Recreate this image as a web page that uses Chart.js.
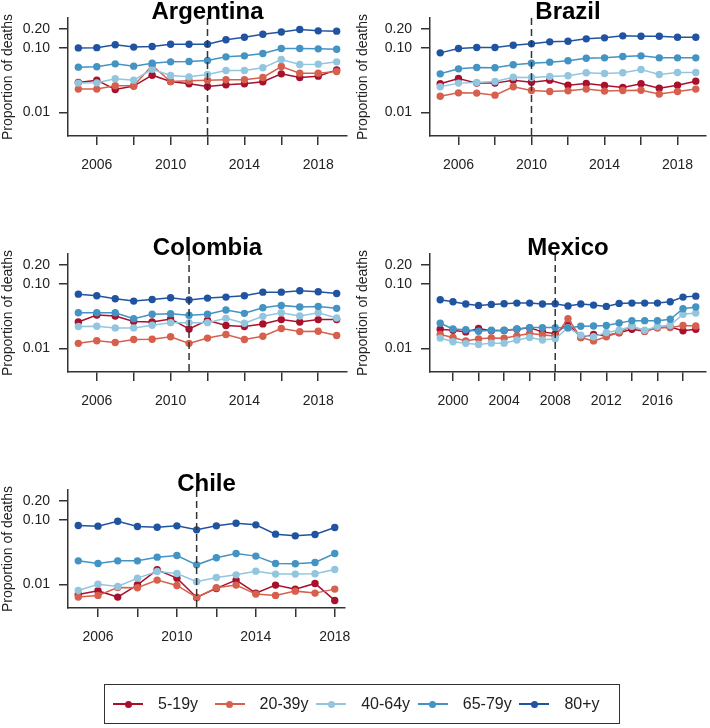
<!DOCTYPE html>
<html>
<head>
<meta charset="utf-8">
<script src="https://cdn.jsdelivr.net/npm/chart.js@4.4.1/dist/chart.umd.min.js"></script>
<style>
  body { margin: 0; background: #fff; font-family: "Liberation Sans", Arial, Helvetica, sans-serif; }
  #wrap { position: relative; width: 710px; height: 728px; }
  canvas { position: absolute; }
  #argentina { left: 0; top: 0; }
  #brazil { left: 355px; top: 0; }
  #colombia { left: 0; top: 236px; }
  #mexico { left: 355px; top: 236px; }
  #chile { left: 0; top: 472px; }
  #legend {
    position: absolute; left: 104px; top: 684px; width: 516px; height: 40px;
    border: 1.5px solid #333; box-sizing: border-box;
    display: flex; align-items: center; padding-left: 8px;
  }
  .item { width: 101.6px; display: flex; align-items: center; flex: none; }
  .seg { position: relative; width: 30px; height: 7px; flex: none; }
  .seg .ln { position: absolute; left: 0; right: 0; top: 2.75px; height: 1.5px; }
  .seg .dot { position: absolute; left: 11.5px; top: 0; width: 7px; height: 7px; border-radius: 50%; }
  .lab { margin-left: 15px; font-size: 16px; color: #222; white-space: nowrap; }
</style>
</head>
<body>
<div id="wrap">
  <canvas id="argentina" width="355" height="236"></canvas>
  <canvas id="brazil" width="355" height="236"></canvas>
  <canvas id="colombia" width="355" height="236"></canvas>
  <canvas id="mexico" width="355" height="236"></canvas>
  <canvas id="chile" width="355" height="236"></canvas>
  <div id="legend"></div>
</div>
<script>
const ageGroups = ['5-19y', '20-39y', '40-64y', '65-79y', '80+y'];
const groupColors = ['#a8102c', '#d6604d', '#92c5de', '#4393c3', '#2054a0'];
const yTicks = [0.01, 0.10, 0.20];

// Argentina
const yearsArg = [2005, 2006, 2007, 2008, 2009, 2010, 2011, 2012, 2013, 2014, 2015, 2016, 2017, 2018, 2019];
const arg519 = [0.0293, 0.0318, 0.0228, 0.0257, 0.0380, 0.0303, 0.0279, 0.0254, 0.0269, 0.0279, 0.0300, 0.0399, 0.0350, 0.0367, 0.0460];
const arg2039 = [0.0231, 0.0231, 0.0260, 0.0260, 0.0538, 0.0303, 0.0311, 0.0318, 0.0322, 0.0322, 0.0350, 0.0519, 0.0409, 0.0409, 0.0434];
const arg4064 = [0.0286, 0.0289, 0.0334, 0.0318, 0.0470, 0.0376, 0.0358, 0.0390, 0.0450, 0.0450, 0.0495, 0.0667, 0.0557, 0.0564, 0.0613];
const arg6579 = [0.0507, 0.0513, 0.0571, 0.0525, 0.0585, 0.0613, 0.0620, 0.0643, 0.0733, 0.0760, 0.0826, 0.0988, 0.0988, 0.0976, 0.0965];
const arg80 = [0.101, 0.102, 0.113, 0.104, 0.106, 0.115, 0.115, 0.115, 0.135, 0.148, 0.165, 0.179, 0.195, 0.186, 0.184];

// Brazil
const yearsBra = [2005, 2006, 2007, 2008, 2009, 2010, 2011, 2012, 2013, 2014, 2015, 2016, 2017, 2018, 2019];
const bra519 = [0.0279, 0.0338, 0.0286, 0.0286, 0.0318, 0.0296, 0.0318, 0.0266, 0.0282, 0.0263, 0.0245, 0.0279, 0.0239, 0.0266, 0.0307];
const bra2039 = [0.0179, 0.0202, 0.0200, 0.0186, 0.0251, 0.0220, 0.0212, 0.0217, 0.0231, 0.0215, 0.0220, 0.0222, 0.0193, 0.0212, 0.0231];
const bra4064 = [0.0251, 0.0286, 0.0293, 0.0303, 0.0354, 0.0350, 0.0363, 0.0372, 0.0414, 0.0404, 0.0414, 0.0466, 0.0390, 0.0419, 0.0419];
const bra6579 = [0.0399, 0.0477, 0.0501, 0.0495, 0.0551, 0.0585, 0.0606, 0.0636, 0.0699, 0.0708, 0.0742, 0.0760, 0.0708, 0.0708, 0.0708];
const bra80 = [0.0846, 0.0988, 0.1024, 0.1024, 0.1113, 0.1168, 0.1254, 0.1285, 0.1397, 0.1448, 0.1555, 0.1536, 0.1536, 0.1483, 0.1483];

// Colombia
const yearsCol = [2005, 2006, 2007, 2008, 2009, 2010, 2011, 2012, 2013, 2014, 2015, 2016, 2017, 2018, 2019];
const col519 = [0.0258, 0.0332, 0.0320, 0.0262, 0.0258, 0.0288, 0.0201, 0.0274, 0.0227, 0.0219, 0.0241, 0.0281, 0.0258, 0.0281, 0.0281];
const col2039 = [0.0120, 0.0132, 0.0124, 0.0138, 0.0139, 0.0152, 0.0120, 0.0145, 0.0165, 0.0138, 0.0155, 0.0204, 0.0183, 0.0185, 0.0159];
const col4064 = [0.0219, 0.0222, 0.0209, 0.0209, 0.0230, 0.0252, 0.0252, 0.0252, 0.0294, 0.0247, 0.0316, 0.0360, 0.0320, 0.0360, 0.0298];
const col6579 = [0.0360, 0.0360, 0.0360, 0.0291, 0.0340, 0.0348, 0.0328, 0.0340, 0.0396, 0.0352, 0.0431, 0.0468, 0.0441, 0.0451, 0.0421];
const col80 = [0.0700, 0.0660, 0.0593, 0.0546, 0.0579, 0.0615, 0.0566, 0.0608, 0.0630, 0.0660, 0.0752, 0.0752, 0.0789, 0.0761, 0.0717];

// Mexico
const yearsMex = [1999, 2000, 2001, 2002, 2003, 2004, 2005, 2006, 2007, 2008, 2009, 2010, 2011, 2012, 2013, 2014, 2015, 2016, 2017, 2018, 2019];
const mex519 = [0.0199, 0.0192, 0.0181, 0.0204, 0.0188, 0.0190, 0.0199, 0.0209, 0.0181, 0.0169, 0.0244, 0.0148, 0.0165, 0.0159, 0.0175, 0.0199, 0.0185, 0.0211, 0.0216, 0.0188, 0.0199];
const mex2039 = [0.0165, 0.0148, 0.0131, 0.0141, 0.0146, 0.0144, 0.0157, 0.0171, 0.0163, 0.0155, 0.0291, 0.0148, 0.0131, 0.0152, 0.0179, 0.0222, 0.0185, 0.0209, 0.0211, 0.0227, 0.0224];
const mex4064 = [0.0145, 0.0127, 0.0120, 0.0115, 0.0121, 0.0121, 0.0135, 0.0148, 0.0135, 0.0141, 0.0211, 0.0161, 0.0152, 0.0177, 0.0192, 0.0222, 0.0192, 0.0219, 0.0230, 0.0340, 0.0355];
const mex6579 = [0.0247, 0.0201, 0.0195, 0.0185, 0.0192, 0.0192, 0.0201, 0.0211, 0.0211, 0.0211, 0.0209, 0.0222, 0.0224, 0.0227, 0.0249, 0.0271, 0.0271, 0.0271, 0.0284, 0.0416, 0.0441];
const mex80 = [0.0573, 0.0533, 0.0491, 0.0468, 0.0485, 0.0497, 0.0508, 0.0508, 0.0491, 0.0497, 0.0457, 0.0491, 0.0473, 0.0451, 0.0502, 0.0508, 0.0508, 0.0508, 0.0533, 0.0630, 0.0652];

// Chile
const yearsChl = [2005, 2006, 2007, 2008, 2009, 2010, 2011, 2012, 2013, 2014, 2015, 2016, 2017, 2018];
const chl519 = [0.0070, 0.0080, 0.00636, 0.00988, 0.0169, 0.01254, 0.00628, 0.00867, 0.01168, 0.00733, 0.00977, 0.00846, 0.01037, 0.00564];
const chl2039 = [0.00636, 0.00675, 0.00898, 0.00888, 0.01168, 0.00965, 0.00628, 0.00888, 0.00977, 0.00708, 0.00675, 0.00787, 0.00733, 0.00846];
const chl4064 = [0.00807, 0.0101, 0.0093, 0.01253, 0.0159, 0.0148, 0.0110, 0.0128, 0.0141, 0.0161, 0.0145, 0.0145, 0.0147, 0.0171];
const chl6579 = [0.0233, 0.0212, 0.0233, 0.0233, 0.0266, 0.0282, 0.0202, 0.0260, 0.0303, 0.0276, 0.0212, 0.0210, 0.0220, 0.0303];
const chl80 = [0.0826, 0.0807, 0.0965, 0.0797, 0.0778, 0.0816, 0.0708, 0.0816, 0.0898, 0.0846, 0.0606, 0.0571, 0.0599, 0.0769];

const xTicks2005 = [2006, 2008, 2010, 2012, 2014, 2016, 2018];
const xLabels2005 = [2006, 2010, 2014, 2018];
const xTicksMex = [2000, 2002, 2004, 2006, 2008, 2010, 2012, 2014, 2016, 2018];
const xLabelsMex = [2000, 2004, 2008, 2012, 2016];

const FONT = '"Liberation Sans", Arial, Helvetica, sans-serif';
const AXIS = '#333';

// title, y label and the dashed reference year
const panelText = {
  id: 'panelText',
  afterDatasetsDraw(chart, args, opts) {
    const { ctx, chartArea } = chart;
    const x = chart.scales.x.getPixelForValue(opts.cut);
    ctx.save();
    ctx.setLineDash([7, 4]);
    ctx.strokeStyle = AXIS;
    ctx.lineWidth = 1.5;
    ctx.beginPath();
    ctx.moveTo(x, chartArea.top);
    ctx.lineTo(x, chartArea.bottom);
    ctx.stroke();
    ctx.restore();
  },
  afterDraw(chart, args, opts) {
    const { ctx, chartArea } = chart;
    ctx.save();
    ctx.fillStyle = '#000';
    ctx.font = 'bold 24px ' + FONT;
    ctx.textAlign = 'center';
    ctx.textBaseline = 'alphabetic';
    ctx.fillText(opts.title, (chartArea.left + chartArea.right) / 2, chartArea.top + 1);
    ctx.fillStyle = '#222';
    ctx.font = '14px ' + FONT;
    ctx.translate(8, (chartArea.top + chartArea.bottom) / 2);
    ctx.rotate(-Math.PI / 2);
    ctx.textBaseline = 'middle';
    ctx.fillText('Proportion of deaths', 0, 0);
    ctx.restore();
  }
};

function makePanel(id, title, years, series, cut, xMin, xMax, xTicks, xLabels, axisWidth, padRight) {
  const datasets = series.map((vals, i) => ({
    label: ageGroups[i],
    data: years.map((yr, j) => ({ x: yr, y: vals[j] })),
    borderColor: groupColors[i],
    backgroundColor: groupColors[i],
    pointBackgroundColor: groupColors[i],
    pointBorderWidth: 0,
    pointRadius: 3.7,
    borderWidth: 1.5,
    tension: 0,
    order: series.length - i
  }));

  const tickFont = { family: FONT, size: 14 };

  new Chart(document.getElementById(id), {
    type: 'line',
    data: { datasets },
    options: {
      responsive: false,
      animation: false,
      devicePixelRatio: 1,
      layout: { padding: { left: 0, right: padRight, top: 18, bottom: 46 } },
      plugins: {
        legend: { display: false },
        tooltip: { enabled: false },
        panelText: { title, cut }
      },
      scales: {
        x: {
          type: 'linear',
          min: xMin,
          max: xMax,
          afterBuildTicks: s => { s.ticks = xTicks.map(v => ({ value: v })); },
          afterFit: s => { s.height = 54; s.paddingLeft = 0; s.paddingRight = 0; },
          ticks: {
            autoSkip: false,
            maxRotation: 0,
            padding: 12,
            color: '#222',
            font: tickFont,
            callback: v => xLabels.includes(v) ? String(v) : ''
          },
          grid: { drawOnChartArea: false, drawTicks: true, tickLength: 9, color: AXIS, lineWidth: 1.5 },
          border: { color: AXIS, width: 1.5 }
        },
        y: {
          type: 'logarithmic',
          min: 0.0043,
          max: 0.295,
          afterBuildTicks: s => { s.ticks = yTicks.map(v => ({ value: v })); },
          afterFit: s => { s.width = axisWidth; s.paddingTop = 0; s.paddingBottom = 0; },
          ticks: {
            padding: 9,
            color: '#222',
            font: tickFont,
            callback: v => Number(v).toFixed(2)
          },
          grid: { drawOnChartArea: false, drawTicks: true, tickLength: 9, color: AXIS, lineWidth: 1.5 },
          border: { color: AXIS, width: 1.5 }
        }
      }
    },
    plugins: [panelText]
  });
}

makePanel('argentina', 'Argentina', yearsArg, [arg519, arg2039, arg4064, arg6579, arg80], 2012, 2004.44, 2019.56, xTicks2005, xLabels2005, 68, 8);
makePanel('brazil', 'Brazil', yearsBra, [bra519, bra2039, bra4064, bra6579, bra80], 2010, 2004.44, 2019.56, xTicks2005, xLabels2005, 75, 3);
makePanel('colombia', 'Colombia', yearsCol, [col519, col2039, col4064, col6579, col80], 2011, 2004.44, 2019.56, xTicks2005, xLabels2005, 68, 8);
makePanel('mexico', 'Mexico', yearsMex, [mex519, mex2039, mex4064, mex6579, mex80], 2008, 1998.2, 2019.8, xTicksMex, xLabelsMex, 75, 3);
makePanel('chile', 'Chile', yearsChl, [chl519, chl2039, chl4064, chl6579, chl80], 2011, 2004.48, 2018.52, xTicks2005, xLabels2005, 68, 10);

// legend
const legend = document.getElementById('legend');
ageGroups.forEach((g, i) => {
  const item = document.createElement('div');
  item.className = 'item';
  item.innerHTML = '<span class="seg"><span class="ln" style="background:' + groupColors[i] + '"></span>' +
    '<span class="dot" style="background:' + groupColors[i] + '"></span></span><span class="lab">' + g + '</span>';
  legend.appendChild(item);
});
</script>
</body>
</html>
